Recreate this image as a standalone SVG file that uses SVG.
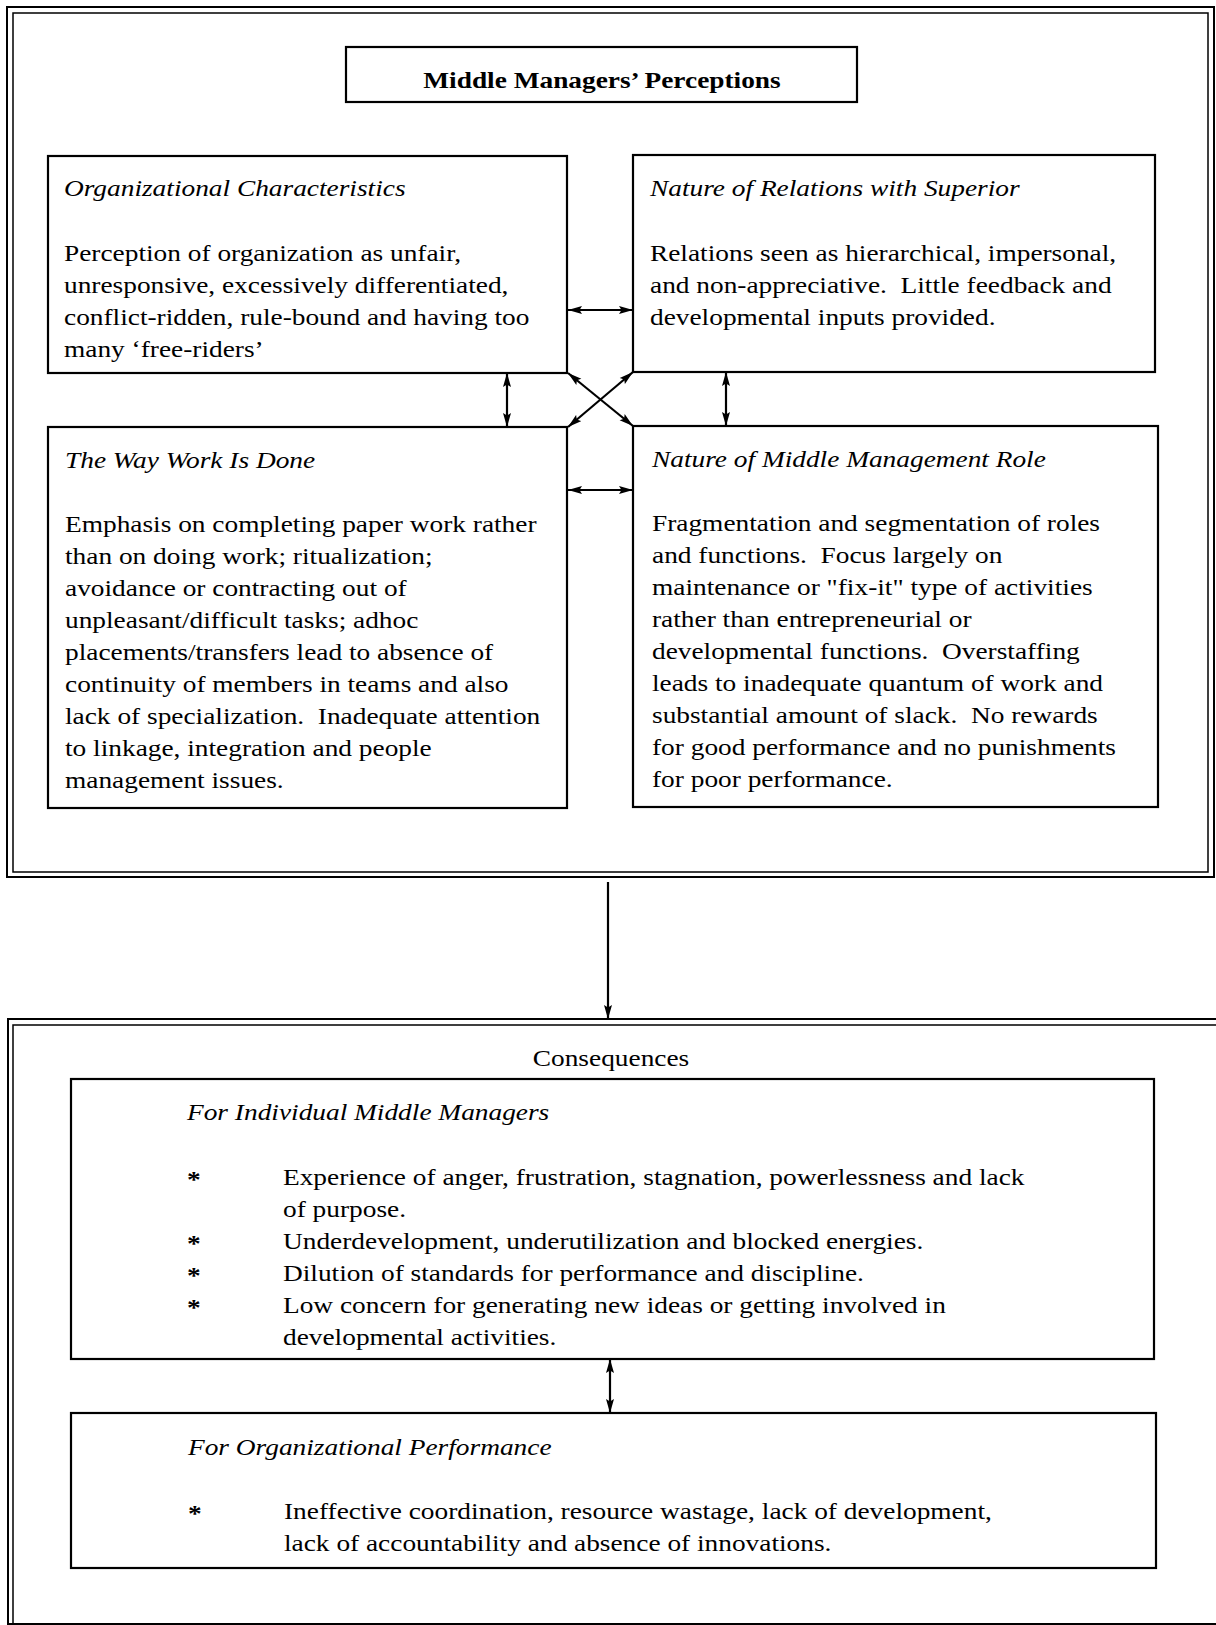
<svg xmlns="http://www.w3.org/2000/svg" width="1216" height="1625" viewBox="0 0 1216 1625">
<style>
.t{font-family:"Liberation Serif","Times New Roman",serif;font-size:24px;fill:#000;white-space:pre}
.i{font-style:italic}
.b{font-weight:bold}
.box{fill:none;stroke:#000;stroke-width:2.2}
.frame{fill:none;stroke:#000;stroke-width:2}
.c line{stroke:#000;stroke-width:2.2}
.dbl{marker-start:url(#ah);marker-end:url(#ah)}
.one{marker-end:url(#ah)}
</style>
<defs>
<marker id="ah" viewBox="0 0 14 9" refX="14" refY="4.5" markerWidth="14" markerHeight="9" markerUnits="userSpaceOnUse" orient="auto-start-reverse">
<path d="M0,0.5 L14,4.5 L0,8.5 L2.5,4.5 z" fill="#000"/>
</marker>
</defs>
<rect width="1216" height="1625" fill="#fff"/>

<g id="frame-perceptions">
<rect class="frame" x="7" y="7" width="1207" height="870"/>
<rect class="frame" x="13" y="13" width="1195" height="859" style="stroke-width:1.5"/>
</g>

<g id="title">
<rect class="box" x="346" y="47" width="511" height="55"/>
<text class="t b" text-anchor="middle" transform="translate(602,0) scale(1.14,1)" x="0" y="88">Middle Managers’ Perceptions</text>
</g>

<g id="org-characteristics">
<rect class="box" x="48" y="156" width="519" height="217"/>
<text class="t i" transform="translate(64,0) scale(1.14,1)" x="0" y="196">Organizational Characteristics</text>
<text class="t" transform="translate(64,0) scale(1.14,1)"><tspan x="0" y="261">Perception of organization as unfair,</tspan><tspan x="0" y="293">unresponsive, excessively differentiated,</tspan><tspan x="0" y="325">conflict-ridden, rule-bound and having too</tspan><tspan x="0" y="357">many ‘free-riders’</tspan></text>
</g>

<g id="relations-superior">
<rect class="box" x="633" y="155" width="522" height="217"/>
<text class="t i" transform="translate(650,0) scale(1.14,1)" x="0" y="196">Nature of Relations with Superior</text>
<text class="t" transform="translate(650,0) scale(1.14,1)"><tspan x="0" y="261">Relations seen as hierarchical, impersonal,</tspan><tspan x="0" y="293">and non-appreciative.  Little feedback and</tspan><tspan x="0" y="325">developmental inputs provided.</tspan></text>
</g>

<g id="way-work-done">
<rect class="box" x="48" y="427" width="519" height="381"/>
<text class="t i" transform="translate(65,0) scale(1.14,1)" x="0" y="468">The Way Work Is Done</text>
<text class="t" transform="translate(65,0) scale(1.14,1)"><tspan x="0" y="532">Emphasis on completing paper work rather</tspan><tspan x="0" y="564">than on doing work; ritualization;</tspan><tspan x="0" y="596">avoidance or contracting out of</tspan><tspan x="0" y="628">unpleasant/difficult tasks; adhoc</tspan><tspan x="0" y="660">placements/transfers lead to absence of</tspan><tspan x="0" y="692">continuity of members in teams and also</tspan><tspan x="0" y="724">lack of specialization.  Inadequate attention</tspan><tspan x="0" y="756">to linkage, integration and people</tspan><tspan x="0" y="788">management issues.</tspan></text>
</g>

<g id="middle-management-role">
<rect class="box" x="633" y="426" width="525" height="381"/>
<text class="t i" transform="translate(652,0) scale(1.14,1)" x="0" y="467">Nature of Middle Management Role</text>
<text class="t" transform="translate(652,0) scale(1.14,1)"><tspan x="0" y="531">Fragmentation and segmentation of roles</tspan><tspan x="0" y="563">and functions.  Focus largely on</tspan><tspan x="0" y="595">maintenance or "fix-it" type of activities</tspan><tspan x="0" y="627">rather than entrepreneurial or</tspan><tspan x="0" y="659">developmental functions.  Overstaffing</tspan><tspan x="0" y="691">leads to inadequate quantum of work and</tspan><tspan x="0" y="723">substantial amount of slack.  No rewards</tspan><tspan x="0" y="755">for good performance and no punishments</tspan><tspan x="0" y="787">for poor performance.</tspan></text>
</g>

<g id="frame-consequences">
<rect class="frame" x="8" y="1019" width="1215" height="605"/>
<rect class="frame" x="13" y="1025" width="1215" height="610" style="stroke-width:1.5"/>
<text class="t" text-anchor="middle" transform="translate(611,0) scale(1.14,1)" x="0" y="1066">Consequences</text>
</g>

<g id="individual">
<rect class="box" x="71" y="1079" width="1083" height="280"/>
<text class="t i" transform="translate(187,0) scale(1.14,1)" x="0" y="1120">For Individual Middle Managers</text>
<text class="t b" transform="translate(187,0) scale(1.14,1)"><tspan x="0" y="1187">*</tspan><tspan x="0" y="1251">*</tspan><tspan x="0" y="1283">*</tspan><tspan x="0" y="1315">*</tspan></text>
<text class="t" transform="translate(283,0) scale(1.14,1)"><tspan x="0" y="1185">Experience of anger, frustration, stagnation, powerlessness and lack</tspan><tspan x="0" y="1217">of purpose.</tspan><tspan x="0" y="1249">Underdevelopment, underutilization and blocked energies.</tspan><tspan x="0" y="1281">Dilution of standards for performance and discipline.</tspan><tspan x="0" y="1313">Low concern for generating new ideas or getting involved in</tspan><tspan x="0" y="1345">developmental activities.</tspan></text>
</g>

<g id="organizational">
<rect class="box" x="71" y="1413" width="1085" height="155"/>
<text class="t i" transform="translate(188,0) scale(1.14,1)" x="0" y="1455">For Organizational Performance</text>
<text class="t b" transform="translate(188,0) scale(1.14,1)" x="0" y="1521">*</text>
<text class="t" transform="translate(284,0) scale(1.14,1)"><tspan x="0" y="1519">Ineffective coordination, resource wastage, lack of development,</tspan><tspan x="0" y="1551">lack of accountability and absence of innovations.</tspan></text>
</g>

<g id="connectors" class="c">
<line class="dbl" x1="568" y1="310" x2="633" y2="310"/>
<line class="dbl" x1="568" y1="490" x2="633" y2="490"/>
<line class="dbl" x1="507" y1="373" x2="507" y2="427"/>
<line class="dbl" x1="726" y1="372" x2="726" y2="426"/>
<line class="dbl" x1="568" y1="373" x2="633" y2="426"/>
<line class="dbl" x1="633" y1="372" x2="568" y2="427"/>
<line class="one" x1="608" y1="882" x2="608" y2="1019"/>
<line class="dbl" x1="610" y1="1359" x2="610" y2="1413"/>
</g>
</svg>
